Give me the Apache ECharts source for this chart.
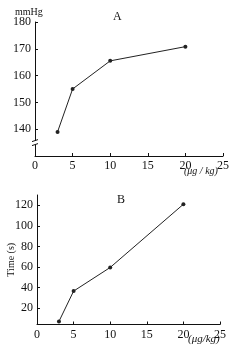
<!DOCTYPE html>
<html><head><meta charset="utf-8">
<script src="https://cdn.jsdelivr.net/npm/echarts@6/dist/echarts.min.js"></script>
<style>html,body{margin:0;padding:0;background:#fff}#c{width:242px;height:350px}</style>
</head><body><div id="c"></div>
<script>
var doseA = [3, 5, 10, 20];
var pressureA = [139, 155, 165.5, 170.8];
var doseB = [3, 5, 10, 20];
var timeB = [7, 36.5, 59.5, 121];
var xTicks = [0, 5, 10, 15, 20, 25];
var yTicksA = [140, 150, 160, 170, 180];
var yTicksB = [20, 40, 60, 80, 100, 120];

var font = 'Liberation Serif';
var ink = '#111';
function xAxis(gi){
  return {gridIndex: gi, type:'value', min:0, max:25, interval:5,
    axisLine:{lineStyle:{color:ink, width:1}},
    axisTick:{inside:true, length:3, lineStyle:{color:ink}},
    axisLabel:{color:ink, fontFamily:font, fontSize:12, margin:4},
    splitLine:{show:false}};
}
function yAxis(gi, min, max, ticks, name){
  return {gridIndex: gi, type:'value', min:min, max:max,
    name: name || '', nameLocation:'middle', nameGap:21, nameRotate:90, nameMoveOverlap:false,
    nameTextStyle:{color:ink, fontFamily:font, fontSize:10},
    axisLine:{lineStyle:{color:ink, width:1}},
    axisTick:{inside:true, length:3, customValues:ticks, lineStyle:{color:ink}},
    axisLabel:{color:ink, fontFamily:font, fontSize:12, margin:4, customValues:ticks},
    splitLine:{show:false}};
}
function pts(xs, ys){ return xs.map(function(x,i){return [x, ys[i]];}); }
function txt(id, x, y, s, size, italic){
  return {id:id, type:'text', left:x, top:y, z:50,
    style:{text:s, fill:ink, fontFamily:font, fontSize:size, fontWeight:'normal', fontStyle: italic ? 'italic' : 'normal'}};
}
var chart = echarts.init(document.getElementById('c'), null, {renderer:'canvas'});
var lineStyle = {color:'#222', width:1};
chart.setOption({
  backgroundColor:'#fff',
  animation:false,
  grid:[{left:35, right:19, top:22, height:134, outerBoundsMode:'none', containLabel:false},
        {left:37, right:22, top:195, height:129.5, outerBoundsMode:'none', containLabel:false}],
  xAxis:[xAxis(0), xAxis(1)],
  yAxis:[yAxis(0, 130, 180, yTicksA), yAxis(1, 4, 130, yTicksB, 'Time (s)')],
  series:[
    {type:'line', xAxisIndex:0, yAxisIndex:0, data:pts(doseA, pressureA),
     symbol:'circle', symbolSize:4, lineStyle:lineStyle, itemStyle:{color:'#222'}},
    {type:'line', xAxisIndex:1, yAxisIndex:1, data:pts(doseB, timeB),
     symbol:'circle', symbolSize:4, lineStyle:lineStyle, itemStyle:{color:'#222'}}
  ],
  graphic:[
    txt('mm', 15, 7, 'mmHg', 10, false),
    txt('ta', 113, 11, 'A', 12, false),
    txt('tb', 117, 194, 'B', 12, false),
    txt('ua', 184, 166, '(\u03bcg / kg)', 10, true),
    txt('ub', 188, 334, '(\u03bcg/kg)', 11, true)
  ]
});
// axis break marker on the y axis of chart A
var p = chart.convertToPixel({xAxisIndex:0, yAxisIndex:0}, [0, 135]);
chart.setOption({graphic:[
  {id:'br0', type:'rect', shape:{x:p[0]-3, y:p[1]-2, width:6, height:4}, style:{fill:'#fff'}, z:100},
  {id:'br1', type:'line', shape:{x1:p[0]-3, y1:p[1]-1, x2:p[0]+3, y2:p[1]-3}, style:{stroke:ink, lineWidth:1}, z:101},
  {id:'br2', type:'line', shape:{x1:p[0]-3, y1:p[1]+3, x2:p[0]+3, y2:p[1]+1}, style:{stroke:ink, lineWidth:1}, z:101}
]});
</script></body></html>
